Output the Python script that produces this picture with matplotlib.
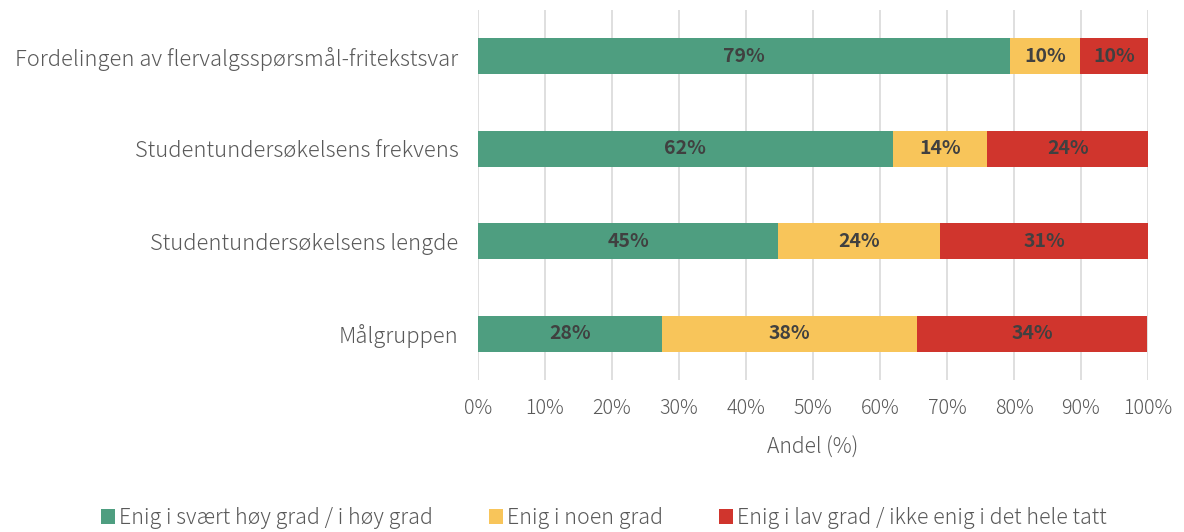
import matplotlib
matplotlib.use('Agg')
import matplotlib.pyplot as plt
import numpy as np

plt.rcParams['font.family'] = ['Noto Sans CJK JP', 'DejaVu Sans']

categories = ['Fordelingen av flervalgsspørsmål-fritekstsvar',
              'Studentundersøkelsens frekvens',
              'Studentundersøkelsens lengde',
              'Målgruppen']
high = [79.4, 61.9, 44.8, 27.5]
some = [10.4, 14.1, 24.2, 38.0]
low = [10.2, 24.0, 31.0, 34.4]
series_names = ['Enig i svært høy grad / i høy grad',
                'Enig i noen grad',
                'Enig i lav grad / ikke enig i det hele tatt']
colors = ['#4E9E80', '#F8C55A', '#D0352D']
ticks = np.arange(0, 101, 10)

fig = plt.figure(figsize=(11.84, 5.32), dpi=100)
ax = fig.add_axes([478/1184, 1-380/532, 670/1184, 370/532])

y = np.arange(len(categories))
left = np.zeros(len(categories))
for vals, name, col in zip([high, some, low], series_names, colors):
    vals = np.array(vals)
    bars = ax.barh(y, vals, left=left, height=0.39, color=col, label=name, zorder=3)
    for b, v in zip(bars, vals):
        ax.text(b.get_x() + b.get_width()/2, b.get_y() + b.get_height()/2,
                '%d%%' % round(v), ha='center', va='center',
                fontsize=14, fontweight='bold', color='#404040', zorder=4)
    left += vals

ax.set_ylim(3.5, -0.5)
ax.set_xlim(0, 100)
ax.set_yticks(y)
ax.set_yticklabels(categories, fontsize=15.8, color='#595959', fontweight='light')
ax.set_xticks(ticks)
ax.set_xticklabels(['%d%%' % t for t in ticks], fontsize=14.2, color='#595959',
                   fontweight='light')
ax.tick_params(axis='x', length=0, pad=13)
ax.tick_params(axis='y', length=0, pad=14)
ax.grid(axis='x', color='#D9D9D9', linewidth=1.2, zorder=0)
for s in ax.spines.values():
    s.set_visible(False)
ax.set_xlabel('Andel (%)', fontsize=15.2, color='#595959', labelpad=13,
              fontweight='light')

fig.legend(loc='center', bbox_to_anchor=(1-(1184-604)/1184, 1-518/532), ncol=3,
           frameon=False, prop={'size': 15.4, 'weight': 'light'},
           labelcolor='#595959', handlelength=0.65, handleheight=0.65,
           handletextpad=0.2, columnspacing=2.6)

fig.savefig('out.png', dpi=100)
